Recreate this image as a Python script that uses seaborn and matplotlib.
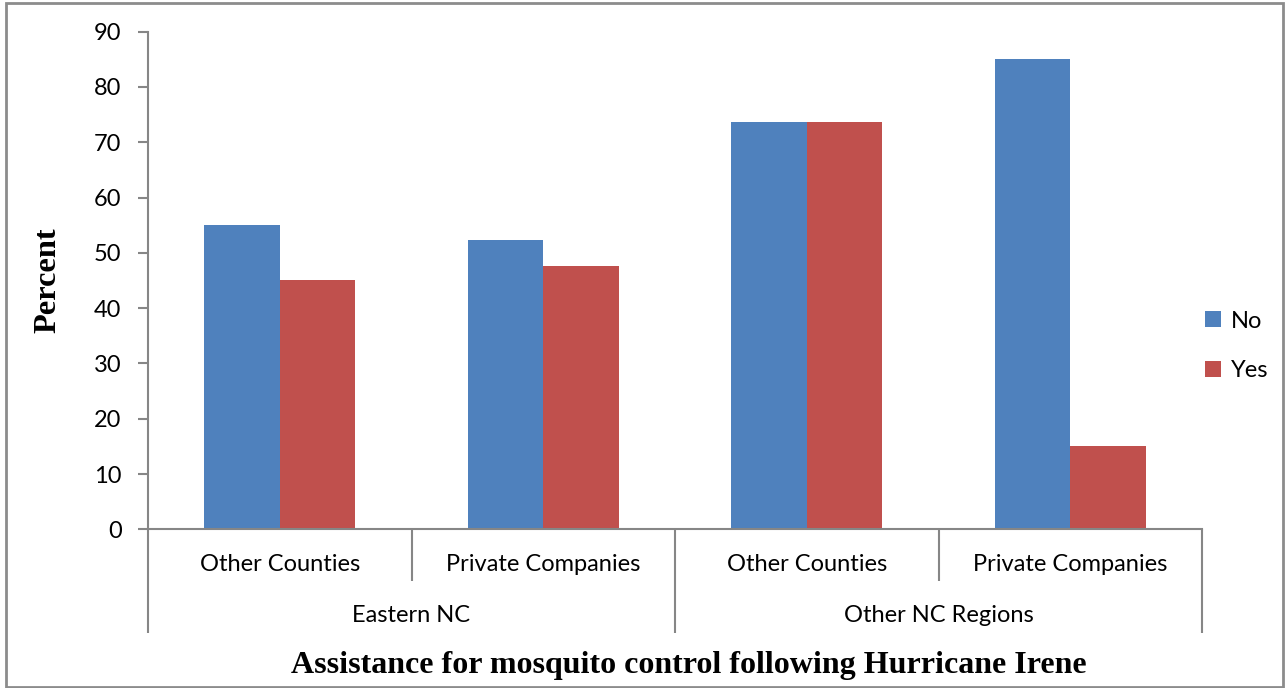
import matplotlib
matplotlib.use("Agg")
import matplotlib.pyplot as plt
from matplotlib.patches import Rectangle, Patch
import seaborn as sns
import pandas as pd

# Survey responses (percent) by provider type and region
regions = ["Eastern NC", "Other NC Regions"]
providers = ["Other Counties", "Private Companies", "Other Counties", "Private Companies"]
series = ["No", "Yes"]
no_values = [55.0, 52.4, 73.7, 85.0]
yes_values = [45.0, 47.6, 73.7, 15.0]
yticks = [0, 10, 20, 30, 40, 50, 60, 70, 80, 90]
colors = {"No": "#4F81BD", "Yes": "#C0504D"}

df = pd.DataFrame({
    "slot": list(range(4)) * 2,
    "answer": ["No"] * 4 + ["Yes"] * 4,
    "percent": no_values + yes_values,
})

sns.set_theme(style="white")
plt.rcParams["font.family"] = ["Lato", "DejaVu Sans"]
plt.rcParams["text.color"] = "black"
plt.rcParams["ytick.labelcolor"] = "black"

FS = 17
W, H = 1287, 688
fig = plt.figure(figsize=(W / 100, H / 100), dpi=100)
ax = fig.add_axes([148 / W, 1 - 529.3 / H, (1202 - 148) / W, (529.3 - 31.7) / H])

sns.barplot(data=df, x="slot", y="percent", hue="answer", hue_order=series,
            palette=colors, width=0.573, linewidth=0, saturation=1,
            ax=ax, legend=False, native_scale=True)

ax.set_xlim(-0.5, 3.5)
ax.set_ylim(0, 90)
ax.set_yticks(yticks)
ax.set_yticklabels([str(v) for v in yticks], fontsize=FS, color="black")
ax.tick_params(axis="y", length=7, width=1.5, color="#868686", pad=12, left=True)
ax.set_xticks([])
ax.set_xlabel("")
ax.set_ylabel("")
for side in ["top", "right"]:
    ax.spines[side].set_visible(False)
for side in ["left", "bottom"]:
    ax.spines[side].set_color("#868686")
    ax.spines[side].set_linewidth(1.5)

ah = 529.3 - 31.7
xt = ax.get_xaxis_transform()
gray = "#868686"
# category separators
for xs in [-0.5, 0.5, 1.5, 2.5, 3.5]:
    depth = 103.4 if xs in (-0.5, 1.5, 3.5) else 51.4
    ax.plot([xs, xs], [0, -depth / ah], transform=xt, color=gray, lw=1.5,
            clip_on=False, solid_capstyle="butt")
for i, name in enumerate(providers):
    ax.text(i, -35.7 / ah, name, transform=xt, ha="center", va="center", fontsize=FS)
for j, name in enumerate(regions):
    ax.text(2 * j + 0.5, -86.7 / ah, name, transform=xt, ha="center", va="center", fontsize=FS)

fig.text(48 / W, 1 - 280 / H, "Percent", rotation=90, ha="center", va="center",
         fontsize=23.3, fontweight="bold", family=["Liberation Serif", "DejaVu Serif"])
fig.text(689 / W, 1 - 665 / H, "Assistance for mosquito control following Hurricane Irene",
         ha="center", va="center", fontsize=23, fontweight="bold",
         family=["Liberation Serif", "DejaVu Serif"])

handles = [Patch(facecolor=colors[s], edgecolor="none") for s in series]
fig.legend(handles, series, loc="center left", bbox_to_anchor=(1196 / W, 1 - 346 / H),
           frameon=False, fontsize=FS, handlelength=0.64, handleheight=0.64,
           handletextpad=0.42, labelspacing=1.22, borderaxespad=0)

fig.add_artist(Rectangle((6 / W, 1 - 687 / H), (1283 - 6) / W, (687 - 3) / H,
                         transform=fig.transFigure, fill=False, edgecolor="#8c8c8c", lw=2))

fig.savefig("out.png", dpi=100)
